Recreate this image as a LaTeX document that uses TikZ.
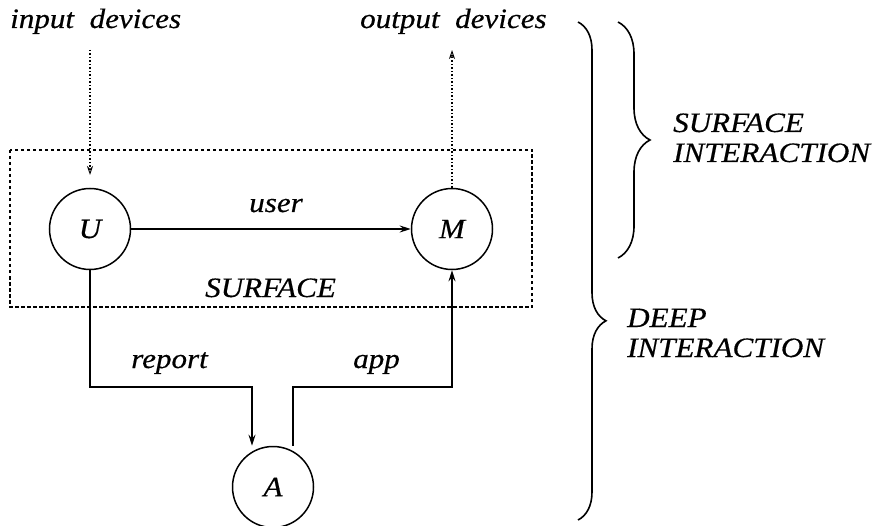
\documentclass[tikz,border=0pt]{standalone}
\usepackage{fontspec}
\setmainfont{Liberation Serif}[FakeStretch=1.11, FakeBold=0.5]
\usetikzlibrary{arrows.meta,decorations.pathreplacing}

\tikzset{
  lbl/.style={font=\fontsize{28}{30}\selectfont\itshape, inner sep=0pt},
  proc/.style={draw, circle, line width=1.5pt, minimum size=81pt, inner sep=0pt,
               font=\fontsize{28}{30}\selectfont\itshape},
  flow/.style={line width=1.5pt, -{Stealth[length=11pt,width=7pt]}},
  devflow/.style={line width=1.5pt, dotted, -{Stealth[open,length=9pt,width=6pt,line width=0.9pt]}},
  surfbox/.style={line width=1.4pt, dash pattern=on 3.5pt off 2.5pt},
  bigbrace/.style={line width=1.6pt, decorate,
                   decoration={brace, amplitude=#1}},
  bigbrace/.default=30pt,
}

\begin{document}
\begin{tikzpicture}[x=1pt, y=-1pt]
\useasboundingbox (0,0) rectangle (874,526);

% the surface layer
\draw[surfbox] (10,150) rectangle (532,307);

% processes
\node[proc] (U) at (90,229) {U};
\node[proc] (M) at (452,229) {M};
\node[proc] (A) at (273,487) {A};

% device labels and their dotted connections
\node[lbl, anchor=base west] (inlbl) at (10,28) {input\ \ devices};
\node[lbl, anchor=base west] (outlbl) at (360,28) {output\ \ devices};
\coordinate (intop) at (90,50);
\coordinate (inend) at (90,175);
\coordinate (outtop) at (452,50);
\draw[devflow] (intop) -- (inend);
\draw[devflow] (M.north) -- (outtop);

% user channel
\draw[flow] (U.east) -- (M.west);
\node[lbl, anchor=base] (userlbl) at (276,212) {user};
\node[lbl, anchor=base west] (surflbl) at (205,297) {SURFACE};

% report and app channels through A
\coordinate (rk) at (252,387);
\coordinate (ak) at (293,387);
\draw[flow] (U.south) |- (rk) -- (rk |- A.north);
\draw[flow] (ak |- A.north) -- (ak) -| (M.south);
\node[lbl, anchor=base east] (replbl) at (208,368) {report};
\node[lbl, anchor=base west] (applbl) at (353,368) {app};

% braces
\draw[bigbrace=28pt, decoration={aspect=0.6}] (578,22) -- (578,520);
\draw[bigbrace=32pt] (618,22) -- (618,258);
\node[lbl, anchor=base west, align=left] (surfint) at (673,162) {SURFACE\\INTERACTION};
\node[lbl, anchor=base west, align=left] (deepint) at (627,357) {DEEP\\INTERACTION};
\end{tikzpicture}
\end{document}
